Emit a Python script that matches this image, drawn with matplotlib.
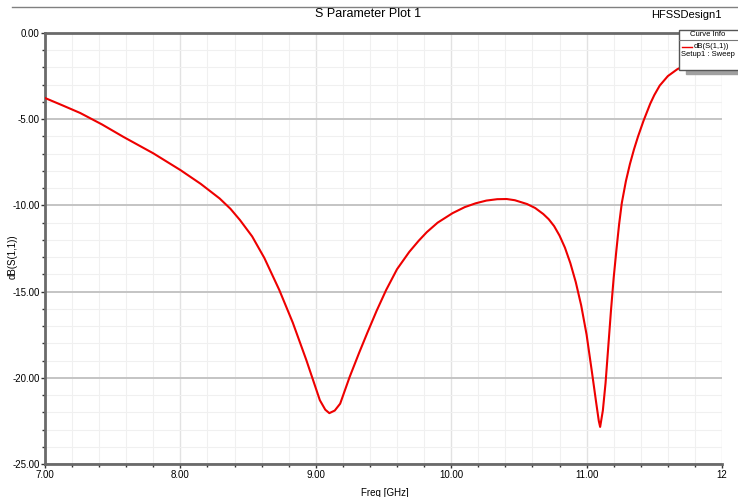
import numpy as np
import matplotlib
matplotlib.use('Agg')
import matplotlib.pyplot as plt
from matplotlib.ticker import MultipleLocator, FixedLocator, FixedFormatter
from matplotlib.lines import Line2D
from matplotlib.patches import Rectangle

plt.rcParams['font.family'] = ['Liberation Sans Narrow', 'Liberation Sans', 'DejaVu Sans']

# S11
freq = [7.00, 7.13, 7.26, 7.42, 7.58, 7.80, 8.00, 8.15, 8.29, 8.37, 8.44, 8.53,
        8.62, 8.73, 8.83, 8.93, 9.03, 9.07, 9.10, 9.14, 9.18, 9.25, 9.32, 9.38,
        9.45, 9.52, 9.60, 9.69, 9.76, 9.82, 9.90, 10.01, 10.10, 10.18, 10.26,
        10.34, 10.41, 10.47, 10.56, 10.62, 10.68, 10.72, 10.76, 10.80, 10.84,
        10.88, 10.92, 10.96, 11.00, 11.04, 11.07, 11.09, 11.10, 11.12, 11.14,
        11.16, 11.18, 11.20, 11.22, 11.24, 11.26, 11.29, 11.32, 11.35, 11.38,
        11.42, 11.47, 11.50, 11.54, 11.60, 11.67, 11.80, 12.00]
s11 = [-3.77, -4.20, -4.64, -5.30, -6.03, -6.98, -7.95, -8.75, -9.60, -10.20,
       -10.85, -11.80, -13.05, -14.90, -16.80, -18.97, -21.30, -21.85, -22.05,
       -21.90, -21.50, -19.95, -18.55, -17.40, -16.10, -14.90, -13.70, -12.70,
       -12.05, -11.55, -11.00, -10.45, -10.10, -9.88, -9.72, -9.64, -9.63,
       -9.70, -9.92, -10.15, -10.50, -10.80, -11.20, -11.75, -12.45, -13.35,
       -14.45, -15.80, -17.50, -19.70, -21.40, -22.50, -22.85, -21.90, -20.30,
       -18.20, -16.10, -14.20, -12.60, -11.10, -9.86, -8.60, -7.60, -6.75,
       -6.00, -5.10, -4.10, -3.60, -3.05, -2.50, -2.10, -1.60, -1.20]

xticks = [7, 8, 9, 10, 11, 12]
xlabels = ['7.00', '8.00', '9.00', '10.00', '11.00', '12']
yticks = [0, -5, -10, -15, -20, -25]
ylabels = ['0.00', '-5.00', '-10.00', '-15.00', '-20.00', '-25.00']

W, H = 738, 497
fig = plt.figure(figsize=(W / 100, H / 100), dpi=100)
ax = fig.add_axes([45 / W, (H - 464) / H, (722 - 45) / W, (464 - 33) / H])

ax.plot(freq, s11, color='#ee0000', lw=1.5, zorder=3)

ax.set_xlim(7, 12)
ax.set_ylim(-25, 0)
ax.xaxis.set_major_locator(FixedLocator(xticks))
ax.xaxis.set_major_formatter(FixedFormatter(xlabels))
ax.yaxis.set_major_locator(FixedLocator(yticks))
ax.yaxis.set_major_formatter(FixedFormatter(ylabels))
ax.xaxis.set_minor_locator(MultipleLocator(0.2))
ax.yaxis.set_minor_locator(MultipleLocator(1))

ax.grid(axis='y', which='major', color='#c4c4c4', lw=1.4)
ax.grid(axis='x', which='major', color='#e2e2e2', lw=1.0)
ax.grid(which='minor', color='#f0f0f0', lw=0.8)
ax.set_axisbelow(True)

for s in ['top', 'left', 'bottom']:
    ax.spines[s].set_color('#6a6a6a')
    ax.spines[s].set_linewidth(2)
ax.spines['right'].set_visible(False)

ax.tick_params(axis='both', which='major', labelsize=7, length=3, width=1,
               color='#333333', pad=1)
ax.tick_params(axis='both', which='minor', length=2, width=1, color='#333333')

ax.set_xlabel('Freq [GHz]', fontsize=7, labelpad=4)
ax.xaxis.set_label_coords((385 - 45) / (722 - 45), -(488 - 464) / (464 - 33))
ax.set_ylabel('dB(S(1,1))', fontsize=7)
ax.yaxis.set_label_coords(-(45 - 18) / (722 - 45), 0.48)

# header
fig.add_artist(Line2D([12 / W, 1], [1 - 7 / H, 1 - 7 / H], color='#808080', lw=1))
fig.text(368 / W, 1 - 14 / H, 'S Parameter Plot 1', ha='center', va='center', fontsize=9)
fig.text(722 / W, 1 - 15 / H, 'HFSSDesign1', ha='right', va='center', fontsize=8)

# curve info box
bx0, by0, bx1, by1 = 679, 30, 745, 70
fig.add_artist(Rectangle((686 / W, 1 - 74 / H), (745 - 686) / W, 4 / H,
                         transform=fig.transFigure, color='#a0a0a0', zorder=4))
fig.add_artist(Rectangle((bx0 / W, 1 - by1 / H), (bx1 - bx0) / W, (by1 - by0) / H,
                         transform=fig.transFigure, facecolor='white',
                         edgecolor='#555555', lw=1, zorder=5))
fig.add_artist(Line2D([bx0 / W, 1], [1 - 40 / H, 1 - 40 / H], color='#777777', lw=0.8, zorder=6))
fig.text(708 / W, 1 - 35 / H, 'Curve Info', ha='center', va='center', fontsize=5.5, zorder=6)
fig.add_artist(Line2D([682 / W, 692 / W], [1 - 47 / H, 1 - 47 / H], color='#ee0000', lw=1, zorder=6))
fig.text(694 / W, 1 - 47 / H, 'dB(S(1,1))', ha='left', va='center', fontsize=5.5, zorder=6)
fig.text(681 / W, 1 - 55 / H, 'Setup1 : Sweep', ha='left', va='center', fontsize=5.5, zorder=6)

fig.savefig('out.png', dpi=100)
